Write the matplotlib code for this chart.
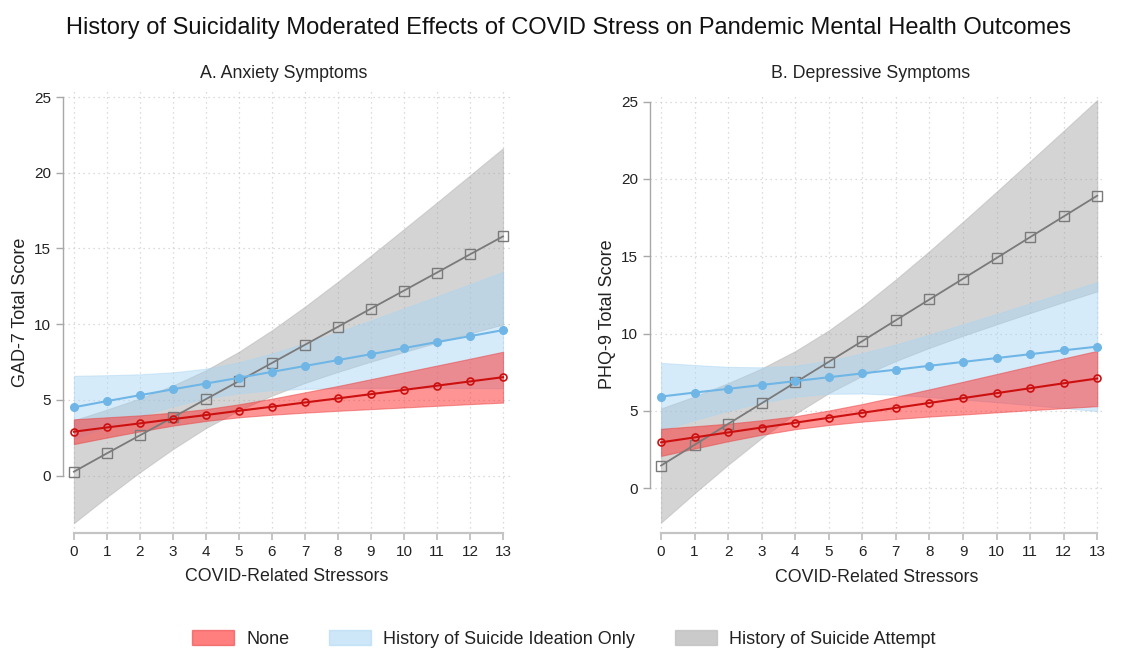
import numpy as np
import matplotlib
matplotlib.use("Agg")
import matplotlib.pyplot as plt
from matplotlib.patches import Patch

plt.rcParams['font.family'] = ['Liberation Sans', 'DejaVu Sans']

stressors = list(range(14))

# A. Anxiety (GAD-7)
gad_none = [2.90, 3.18, 3.45, 3.73, 4.00, 4.28, 4.55, 4.83, 5.10, 5.38, 5.66, 5.94, 6.22, 6.50]
gad_none_lo = [2.08, 2.51, 2.92, 3.30, 3.61, 3.85, 4.02, 4.16, 4.28, 4.39, 4.50, 4.61, 4.72, 4.82]
gad_none_hi = [3.72, 3.85, 3.98, 4.16, 4.39, 4.71, 5.08, 5.50, 5.92, 6.37, 6.82, 7.27, 7.72, 8.18]

gad_idea = [4.51, 4.92, 5.31, 5.70, 6.08, 6.46, 6.85, 7.24, 7.63, 8.02, 8.42, 8.82, 9.21, 9.61]
gad_idea_lo = [2.43, 3.21, 3.93, 4.58, 5.10, 5.44, 5.64, 5.73, 5.77, 5.79, 5.80, 5.80, 5.78, 5.77]
gad_idea_hi = [6.59, 6.63, 6.69, 6.82, 7.06, 7.48, 8.06, 8.75, 9.49, 10.25, 11.04, 11.84, 12.64, 13.45]

gad_att = [0.26, 1.47, 2.66, 3.85, 5.05, 6.24, 7.44, 8.64, 9.83, 11.03, 12.22, 13.41, 14.61, 15.80]
gad_att_lo = [-3.14, -1.42, 0.22, 1.75, 3.14, 4.30, 5.28, 6.12, 6.85, 7.53, 8.16, 8.78, 9.39, 9.98]
gad_att_hi = [3.66, 4.36, 5.10, 5.95, 6.96, 8.18, 9.60, 11.16, 12.81, 14.53, 16.28, 18.04, 19.83, 21.62]

# B. Depression (PHQ-9)
phq_none = [2.97, 3.29, 3.61, 3.93, 4.24, 4.56, 4.88, 5.20, 5.52, 5.83, 6.15, 6.47, 6.79, 7.10]
phq_none_lo = [2.09, 2.57, 3.04, 3.46, 3.82, 4.09, 4.31, 4.48, 4.64, 4.77, 4.91, 5.05, 5.18, 5.31]
phq_none_hi = [3.85, 4.01, 4.18, 4.40, 4.66, 5.03, 5.45, 5.92, 6.40, 6.89, 7.39, 7.89, 8.40, 8.89]

phq_idea = [5.93, 6.19, 6.43, 6.68, 6.93, 7.18, 7.43, 7.67, 7.92, 8.17, 8.42, 8.67, 8.92, 9.16]
phq_idea_lo = [3.75, 4.41, 5.01, 5.54, 5.93, 6.11, 6.13, 6.04, 5.90, 5.74, 5.57, 5.38, 5.19, 4.99]
phq_idea_hi = [8.11, 7.97, 7.85, 7.82, 7.93, 8.25, 8.73, 9.30, 9.94, 10.60, 11.27, 11.96, 12.65, 13.33]

phq_att = [1.47, 2.81, 4.16, 5.50, 6.84, 8.18, 9.52, 10.87, 12.21, 13.55, 14.89, 16.24, 17.58, 18.92]
phq_att_lo = [-2.22, -0.32, 1.52, 3.25, 4.81, 6.15, 7.27, 8.23, 9.08, 9.86, 10.60, 11.33, 12.04, 12.73]
phq_att_hi = [5.16, 5.94, 6.80, 7.75, 8.87, 10.21, 11.77, 13.51, 15.34, 17.24, 19.18, 21.15, 23.12, 25.11]

groups = ['None', 'History of Suicide Ideation Only', 'History of Suicide Attempt']

line_cols = ['#cc1010', '#6fb6e6', '#7a7a7a']
fill_cols = ['#ff2a2a', '#a6d4f4', '#a0a0a0']
fill_alpha = [0.5, 0.45, 0.45]
edge_cols = ['#e84040', '#a8d4f2', '#b0b0b0']

fig = plt.figure(figsize=(11.31, 6.49), dpi=100)
ax1 = fig.add_axes([0.0557, 0.1792, 0.3949, 0.6806])
ax2 = fig.add_axes([0.5747, 0.1783, 0.4014, 0.6746])


def panel(ax, series, ylab, ybottom):
    x = stressors
    # bands first: attempt, ideation, none
    for k in [2, 1, 0]:
        m, lo, hi = series[k]
        ax.fill_between(x, lo, hi, color=fill_cols[k], alpha=fill_alpha[k],
                        linewidth=0.8, edgecolor=edge_cols[k], zorder=1 + (2 - k) * 0.1)
    for k in [2, 1, 0]:
        m = series[k][0]
        if k == 0:
            ax.plot(x, m, color=line_cols[k], lw=1.5, marker='o', ms=5,
                    mfc='none', mec=line_cols[k], mew=1.2, zorder=5)
        elif k == 1:
            ax.plot(x, m, color=line_cols[k], lw=1.5, marker='o', ms=5.5,
                    mfc=line_cols[k], mec=line_cols[k], zorder=4)
        else:
            ax.plot(x, m, color=line_cols[k], lw=1.3, marker='s', ms=6.5,
                    mfc='none', mec=line_cols[k], mew=1.0, zorder=3)
    ax.set_xlim(-0.33, 13.2)
    ax.set_ylim(ybottom, 25.4)
    ax.set_xticks(range(14))
    ax.set_yticks([0, 5, 10, 15, 20, 25])
    ax.grid(True, color='#d0d0d0', linestyle=(0, (1, 3)), linewidth=0.9)
    ax.set_axisbelow(True)
    for s in ['top', 'right']:
        ax.spines[s].set_visible(False)
    ax.spines['left'].set_bounds(0, 25)
    ax.spines['bottom'].set_bounds(0, 13)
    ax.spines['left'].set_color('#a8a8a8')
    ax.spines['left'].set_linewidth(1.0)
    ax.spines['bottom'].set_color('#c4c4c4')
    ax.spines['bottom'].set_linewidth(1.6)
    ax.tick_params(axis='y', colors='#a8a8a8', labelcolor='#222222', labelsize=11,
                   length=5, width=1.0)
    ax.tick_params(axis='x', colors='#c4c4c4', labelcolor='#222222', labelsize=11,
                   length=5, width=1.4)
    ax.set_xlabel('COVID-Related Stressors', fontsize=12.8, color='#222222', labelpad=7)
    ax.set_ylabel(ylab, fontsize=13, color='#222222', labelpad=4)


panel(ax1, [(gad_none, gad_none_lo, gad_none_hi),
            (gad_idea, gad_idea_lo, gad_idea_hi),
            (gad_att, gad_att_lo, gad_att_hi)], 'GAD-7 Total Score', -3.77)
panel(ax2, [(phq_none, phq_none_lo, phq_none_hi),
            (phq_idea, phq_idea_lo, phq_idea_hi),
            (phq_att, phq_att_lo, phq_att_hi)], 'PHQ-9 Total Score', -2.91)

fig.text(284 / 1131, 1 - 74 / 649, 'A. Anxiety Symptoms', ha='center', va='center',
         fontsize=12.8, color='#222222')
fig.text(871 / 1131, 1 - 74 / 649, 'B. Depressive Symptoms', ha='center', va='center',
         fontsize=12.8, color='#222222')
fig.text(569 / 1131, 1 - 28 / 649,
         'History of Suicidality Moderated Effects of COVID Stress on Pandemic Mental Health Outcomes',
         ha='center', va='center', fontsize=17, color='#111111')

handles = [Patch(facecolor=fill_cols[k], alpha=fill_alpha[k] + 0.1, edgecolor=edge_cols[k],
                 linewidth=1.0) for k in range(3)]
fig.legend(handles, groups, loc='center', bbox_to_anchor=(564 / 1131, 1 - 639 / 649),
           ncol=3, frameon=False, fontsize=13, handlelength=2.3, handleheight=0.9,
           handletextpad=0.7, columnspacing=2.2, labelcolor='#222222')

fig.savefig('out.png', dpi=100)
